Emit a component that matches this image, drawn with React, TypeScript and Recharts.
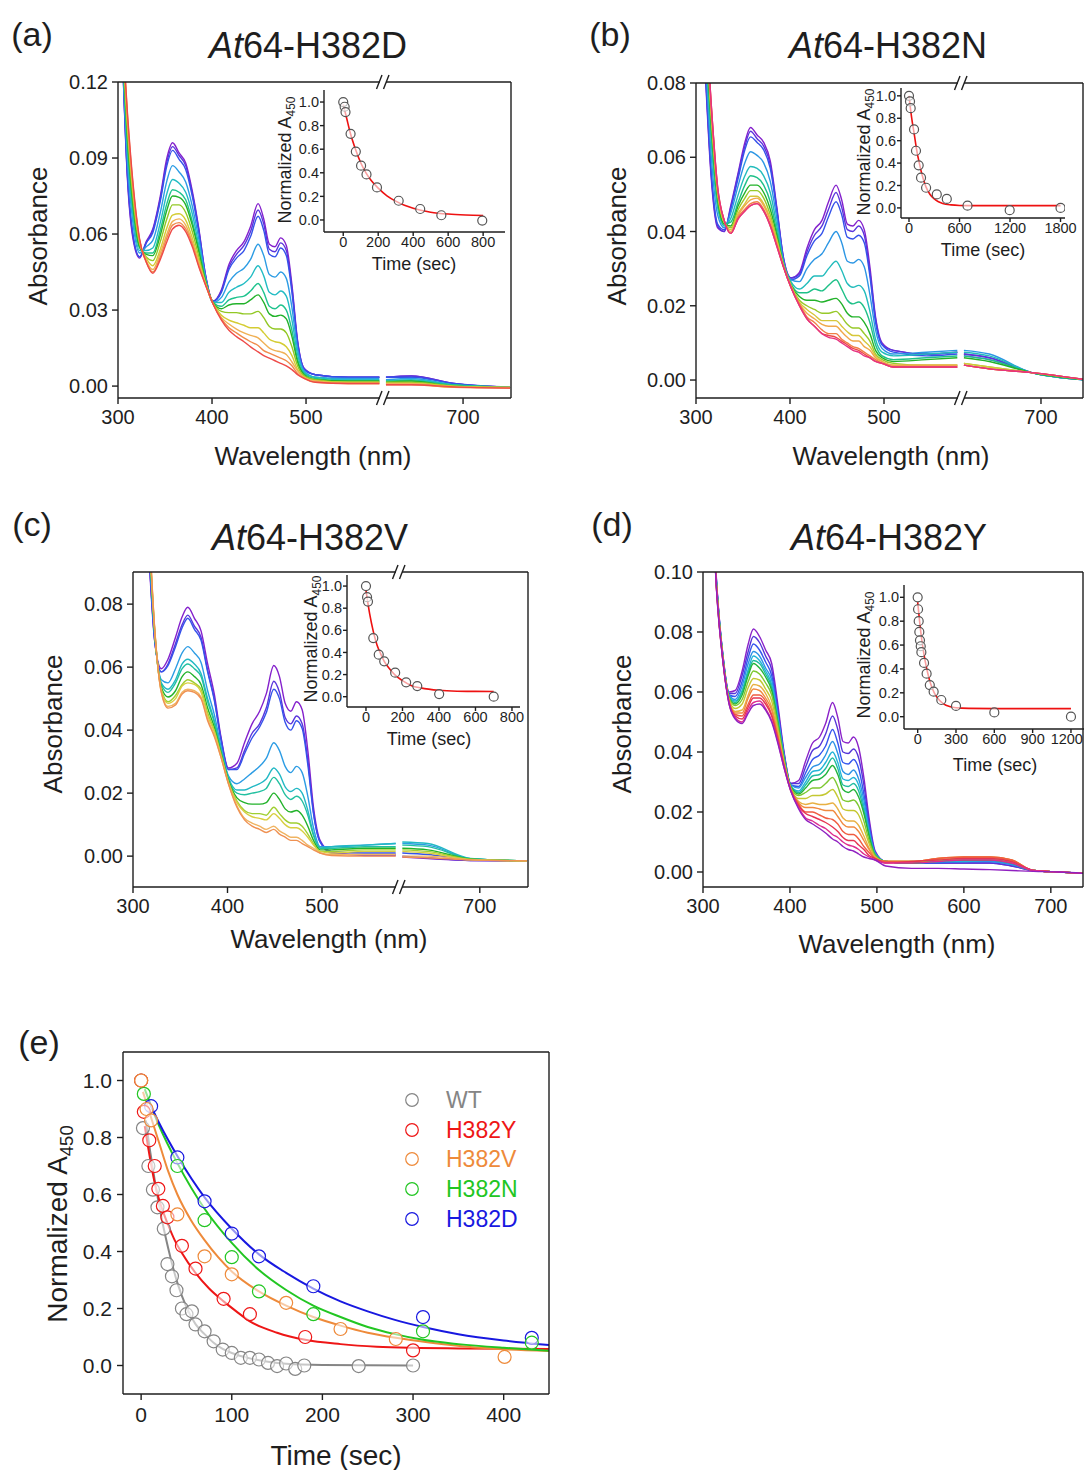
import React from 'react';
import { LineChart, ComposedChart, Line, Scatter, XAxis, YAxis } from 'recharts';

const FONT = '"Liberation Sans", Arial, Helvetica, sans-serif';
const INK = '#1e1e1e';

// wavelength grids (nm); panels a-c have a broken axis between 578 and 618
const wlBroken = [303, 310, 316, 323, 330, 337, 345, 352, 358, 365, 372, 379, 386, 393, 401, 410, 418, 426, 434, 441, 449, 455, 461, 467, 473, 479, 485, 491, 498, 510, 545, 578, 618, 645, 690, 750];
const wlFull = [303, 310, 316, 323, 330, 337, 345, 352, 358, 365, 372, 379, 386, 393, 401, 410, 418, 426, 434, 441, 449, 455, 461, 467, 473, 479, 485, 491, 498, 510, 540, 570, 600, 630, 655, 680, 710, 740];

// spectra, absorbance x 1000, first trace = t0
const spectraH382D = [
  [150, 82, 58, 50.5, 57, 62, 75, 90, 96, 92, 88, 77, 62, 44, 33.5, 38, 48, 53.5, 57, 63, 72, 66, 56, 55, 58.5, 55.5, 40, 18, 7, 4.5, 3.5, 3.5, 3.5, 4, 1, -0.5],
  [150, 83, 59, 51, 56.5, 61.5, 74, 88.5, 94.5, 91, 87, 76, 61.5, 44, 33.5, 37.5, 47, 52, 55.5, 61, 69.5, 64, 54, 53, 56.5, 53.5, 38.5, 17.5, 7, 4.5, 3.5, 3.5, 3.5, 4, 1, -0.5],
  [150, 84, 60, 51, 56.5, 60.5, 73, 87, 93, 89.5, 85.5, 75, 60.5, 43.5, 33.5, 37, 46, 50.5, 53.5, 59, 67, 61.5, 52, 51, 54.5, 51.5, 37, 17, 6.5, 4.5, 3.5, 3.5, 3.5, 3.5, 1, -0.5],
  [150, 89, 64, 52.5, 55, 57.5, 68.5, 81, 87, 84.5, 80.5, 71, 58, 43, 33, 35, 41, 44.5, 46.5, 50, 56, 51.5, 44, 43, 45, 42.5, 31, 14.5, 6, 3.5, 3, 3, 2.5, 3, 0.5, -0.5],
  [150, 93, 67, 53.5, 53.5, 54.5, 64.5, 76, 81.5, 80, 76.5, 68, 55.5, 42.5, 33, 33, 37, 39, 40.5, 43, 47.5, 43.5, 37, 36, 37.5, 35.5, 26, 12.5, 5.5, 3.5, 2.5, 2.5, 2, 2.5, 0.5, -0.5],
  [150, 96, 70, 54.5, 52.5, 52.5, 61.5, 72, 77.5, 76.5, 73.5, 65, 54, 42, 33, 31.5, 34, 35, 35.5, 37.5, 40.5, 37, 31.5, 30.5, 32, 30, 22, 10.5, 5, 3, 2, 2, 2, 2, 0.5, -0.5],
  [150, 98, 71.5, 55, 52, 51.5, 59.5, 69.5, 75, 74.5, 71.5, 63.5, 53, 41.5, 33, 30.5, 32, 32.5, 32.5, 34, 36, 33, 28.5, 27.5, 28, 26.5, 19.5, 9.5, 4.5, 2.5, 2, 2, 1.5, 2, 0, -0.5],
  [150, 101, 74, 56, 51, 49.5, 57, 66, 71.5, 71.5, 68.5, 61, 51, 41, 33, 29.5, 29, 29, 28.5, 28.5, 29.5, 27, 23.5, 22.5, 22.5, 21, 15.5, 8, 4, 2.5, 1.5, 1.5, 1.5, 1.5, 0, -0.5],
  [150, 104, 76.5, 57, 50.5, 47.5, 54, 62.5, 67.5, 68, 65.5, 58.5, 49.5, 40.5, 32.5, 28, 26, 25, 24, 23, 23, 21, 18.5, 17.5, 17, 15.5, 12, 6.5, 3.5, 2, 1.5, 1.5, 1, 1, 0, -0.5],
  [150, 105.5, 78, 57.5, 49.5, 46, 52.5, 60, 65, 66, 63.5, 57, 48.5, 40.5, 32.5, 27, 24.5, 22.5, 21, 20, 19, 17, 15, 14, 13.5, 12.5, 9.5, 6, 3.5, 2, 1, 1, 1, 1, -0.5, -0.5],
  [150, 107, 79, 57.5, 49, 45, 51, 58.5, 63.5, 64.5, 62, 56, 47.5, 40, 32.5, 26.5, 23, 21, 19, 17.5, 16, 14, 13, 12, 11, 10, 8, 5, 3, 1.5, 1, 1, 0.5, 0.5, -0.5, -0.8],
  [150, 108, 80, 58, 49, 44.5, 50, 57, 62, 63.5, 61, 55, 47, 40, 32.5, 26, 22, 19.5, 17.5, 15.5, 13.5, 12, 11, 10, 9, 8, 6.5, 4.5, 3, 1.5, 1, 1, 0.5, 0.5, -0.3, -0.8],
];
const colorsH382D = ['#8420cc', '#5a35dc', '#3552ea', '#2c9ce4', '#22bcc4', '#1fc38e', '#22b22a', '#92c824', '#d4cc32', '#f0b055', '#f08a4a', '#ee4a48'];

const spectraH382N = [
  [120, 82, 55, 41, 40, 47, 56, 64, 68, 66, 64, 59, 46.5, 33, 27.5, 29, 35.5, 40.5, 43, 48, 52.5, 48.5, 42, 41.5, 43, 40.5, 30.5, 17, 10, 8, 7, 7.5, 7, 6, 2, 0],
  [120.5, 83, 56, 41.5, 40, 46.5, 55.5, 63, 67, 65, 63, 58, 46, 33, 27.5, 28.5, 34.5, 39, 41.5, 46, 50.5, 46.5, 40.5, 40, 41.5, 39, 29, 16.5, 9.5, 8, 7, 7.5, 7, 6, 2, 0],
  [121, 84, 57, 42, 40.5, 46, 54.5, 62, 65.5, 64, 62, 57, 45.5, 32.5, 27, 28, 33.5, 37.5, 39.5, 44, 48, 44.5, 38.5, 38, 39, 37, 28, 15.5, 9.5, 7.5, 6.5, 7, 6.5, 5.5, 2, 0],
  [123, 87.5, 61, 44.5, 41, 45, 52.5, 58.5, 61.5, 60.5, 58.5, 53.5, 43.5, 32, 27, 26.5, 30, 32.5, 34, 37, 40, 37, 32, 31.5, 32.5, 30.5, 23, 13.5, 8.5, 7, 7.5, 8, 8, 7, 2, 0],
  [125, 91, 65, 46.5, 41.5, 43.5, 50, 55, 57.5, 57, 55, 50.5, 41.5, 31.5, 26.5, 24.5, 26, 28, 28, 30, 32, 29.5, 26, 25, 25.5, 24, 18.5, 11, 7.5, 6.5, 7, 7.5, 7.5, 6.5, 2, 0],
  [126, 93, 67.5, 48, 42, 42.5, 48, 52.5, 55, 54.5, 52.5, 48, 40, 31.5, 26, 23.5, 23.5, 24.5, 24, 25.5, 27, 24.5, 21.5, 20.5, 21, 19.5, 15.5, 9.5, 6.5, 5.5, 6, 6.5, 6.5, 5.5, 2, 0],
  [127.5, 95, 69.5, 49, 42, 41.5, 47, 50.5, 52.5, 52.5, 50.5, 46, 39, 31, 25.5, 22.5, 21.5, 21.5, 21, 21.5, 22, 20.5, 18, 17, 17, 15.5, 12.5, 8, 6, 5, 5.5, 6, 6, 5, 2, 0],
  [128, 97, 71.5, 50, 42.5, 41, 46, 49, 51, 51, 49, 44.5, 38, 31, 25.5, 21.5, 20, 19, 18, 18, 18.5, 17, 15, 14, 14, 12.5, 10.5, 7, 5.5, 4.5, 4, 4, 4.5, 3.5, 2, 0],
  [129, 98, 72.5, 50.5, 42.5, 40.5, 45, 47.5, 49.5, 49.5, 47.5, 43.5, 37.5, 31, 25.5, 21, 19, 17.5, 16, 16, 16, 14.5, 13, 12, 12, 10.5, 9, 6.5, 5, 4, 4, 4, 4.5, 3.5, 2, 0],
  [129, 98.5, 73.5, 51, 43, 40, 44.5, 47, 48.5, 49, 47, 43, 37, 30.5, 25, 20.5, 18, 16.5, 15, 14.5, 14.5, 13, 11.5, 10.5, 10.5, 9, 8, 6, 5, 4, 4, 4, 4, 3, 2, 0],
  [129.5, 99.5, 74.5, 51.5, 43, 39.5, 44, 46, 47.5, 48, 46, 42, 36.5, 30.5, 25, 20.5, 17, 15.5, 13.5, 12.5, 12.5, 11, 10, 9, 8.5, 7.5, 6.5, 5.5, 4.5, 3.5, 3.5, 3.5, 4, 3, 2, 0],
  [130, 100, 75, 52, 43, 39.5, 43.5, 45.5, 47, 47.5, 45.5, 41.5, 36, 30.5, 25, 20, 16.5, 14.5, 12.5, 12, 11.5, 10.5, 9.5, 8.5, 8, 7, 6, 5, 4.5, 3.5, 3.5, 3.5, 4, 3, 2, 0],
  [130, 100, 75, 52, 43, 39.5, 43.5, 45.5, 47, 47.5, 45.5, 41.5, 36, 30.5, 25, 20, 16.5, 14.5, 12.5, 11.5, 11, 10, 9, 8, 7.5, 6.5, 6, 5, 4.5, 3.5, 3.5, 3.5, 4, 3, 2, 0],
];
const colorsH382N = ['#8420cc', '#5a35dc', '#3552ea', '#2c96e4', '#22bcbc', '#1fc088', '#22b22a', '#98c92a', '#d6c73a', '#f0a84a', '#f07f45', '#ee4848', '#e63380'];

const spectraH382V = [
  [150, 135, 100, 68, 59.5, 62.5, 69.5, 76, 79, 75.5, 71.5, 61, 51.5, 38, 28, 29.5, 36, 42, 46, 51.5, 60.5, 57, 48.5, 46, 49, 46.5, 33.5, 15.5, 5, 1.3, 0.2, 0.2, -0.3, -0.8, -1.4, -1.5],
  [150, 135.5, 101, 68.5, 58.5, 61, 67.5, 73.5, 76.5, 73, 69.5, 59, 50, 37.5, 27.5, 28, 33.5, 39, 42, 47, 55.5, 52, 44, 42, 44.5, 42, 30.5, 14, 4.5, 1, 0.5, 0.5, 0, -0.5, -1.4, -1.5],
  [150, 135.5, 101.5, 68.5, 58.5, 60.5, 66.5, 72.5, 75.5, 72, 68.5, 58.5, 49.5, 37, 27.5, 27.5, 32.5, 37.5, 41, 45.5, 53, 50, 42.5, 40, 43, 40.5, 29, 13.5, 4.5, 1.5, 1, 1, 1, 0.5, -1.2, -1.5],
  [150, 137.5, 104.5, 70, 56, 55, 59.5, 64.5, 66.5, 64.5, 61.5, 52.5, 45, 35, 25.5, 23, 24.5, 26.5, 28.5, 31, 36, 33.5, 28.5, 26.5, 28.5, 26.5, 19, 9, 3, 3, 3.5, 4, 4, 3.5, -0.8, -1.5],
  [150, 138, 106, 70.5, 55, 53, 56, 61, 62.5, 61, 58, 50, 43, 34, 25, 21, 21, 22, 23, 24.5, 28, 26, 22, 20.5, 21.5, 20, 14.5, 7, 2.5, 3, 3.5, 4, 4.5, 4, -0.7, -1.5],
  [150, 138.5, 107, 70.5, 54.5, 52, 55, 59.5, 61, 59.5, 57, 49, 42.5, 33.5, 24.5, 20, 19.5, 20, 20.5, 21.5, 25, 23, 19.5, 18, 19, 17.5, 13, 6.5, 2.5, 2.5, 3, 3, 3.5, 3, -0.8, -1.5],
  [150, 139, 108, 71, 53.5, 50.5, 52.5, 57, 58.5, 57, 54.5, 47, 41, 33, 24, 18.5, 17, 16.5, 16.5, 17, 20, 18, 15, 14, 14.5, 13, 9.5, 5, 2, 2, 2.5, 2.5, 2.5, 2, -0.9, -1.5],
  [150, 139.5, 108.5, 71.5, 53, 49, 51, 54.5, 56, 55, 53, 45.5, 40, 32.5, 23.5, 17.5, 14.5, 13.5, 13.5, 13, 15.5, 13.5, 11.5, 10.5, 10.5, 9.5, 7, 4, 1.5, 1.5, 2, 2, 2, 1.5, -1, -1.5],
  [150, 139.5, 109, 71.5, 52.5, 48.5, 50, 54, 55, 54.5, 52, 44.5, 39.5, 32, 23.5, 17, 14, 12.5, 12, 11.5, 13.5, 12, 10, 9, 9, 8, 6, 3.5, 1.5, 1, 1.5, 1.5, 1.5, 1, -1.1, -1.5],
  [150, 140, 110, 72, 52, 47.5, 48.5, 52, 53, 52.5, 50.5, 43.5, 38.5, 31.5, 23, 16, 12, 10.5, 9.5, 8.5, 9.5, 8, 7, 6, 6, 5, 3.5, 2.5, 1, 0.5, 0.5, 0.5, 0, 0, -1.2, -1.5],
  [150, 140, 110, 72, 52, 47, 48, 51.5, 52.5, 52, 50, 43, 38, 31.5, 23, 15.5, 11.5, 9.5, 8.5, 7.5, 8.5, 7, 6, 5, 5, 4, 3, 2, 1, 0.2, 0, 0, -0.3, -0.5, -1.2, -1.5],
];
const colorsH382V = ['#8420cc', '#5a35dc', '#3552ea', '#2c9ce4', '#22b8c4', '#22c0a0', '#22b22a', '#a0cf32', '#d8cf40', '#f0b462', '#ef9152'];

const spectraH382Y = [
  [150, 125, 95, 72, 60, 60.5, 67, 76, 81, 78.5, 74, 69.5, 56, 40.5, 29.5, 30.5, 37, 43, 45, 49.5, 56.5, 51.5, 43.5, 43, 45, 41.5, 31.5, 18, 7, 3.5, 3, 3, 3, 3, 2, 0.5, 0, -0.5],
  [150, 125, 94.5, 72, 59.5, 59.5, 65.5, 73.5, 78.5, 76.5, 72, 67.5, 54.5, 40, 29.5, 29.5, 35, 40.5, 42, 46, 52, 47.5, 40, 39.5, 41, 38, 29, 16.5, 6.5, 3.5, 3, 3, 3, 3, 2, 0.5, 0, -0.5],
  [150, 125, 94.5, 71.5, 59, 58.5, 63.5, 71.5, 76, 74, 70, 65.5, 53.5, 39.5, 29, 28.5, 33, 37.5, 39, 42, 47.5, 43, 36.5, 36, 37.5, 34.5, 26, 15.5, 6.5, 3.5, 3, 3, 3.5, 3.5, 2.5, 0.5, 0, -0.5],
  [150, 125, 94, 71.5, 59, 57.5, 62, 69.5, 73.5, 72, 68, 64, 52, 39, 29, 28, 31.5, 35, 36, 39, 43.5, 39.5, 33.5, 32.5, 34, 31, 24, 14, 6, 3.5, 3, 3.5, 3.5, 3.5, 2.5, 0.5, 0, -0.5],
  [150, 125, 94, 71.5, 58.5, 57, 60.5, 67.5, 72, 70.5, 67, 62.5, 51.5, 38.5, 28.5, 27, 30, 33.5, 34, 36.5, 40, 36.5, 31, 30.5, 31.5, 29, 22, 13, 6, 3.5, 3, 3.5, 3.5, 4, 3, 0.5, 0, -0.5],
  [150, 125, 94, 71, 58.5, 56.5, 60, 66.5, 70.5, 69.5, 66, 61.5, 50.5, 38, 28.5, 26.5, 29, 32, 32.5, 34.5, 38, 34.5, 29, 28.5, 29.5, 27, 20.5, 12.5, 6, 3.5, 3, 3.5, 4, 4, 3, 0.5, 0, -0.5],
  [150, 125, 93.5, 71, 58, 56, 59, 65.5, 69.5, 68, 65, 60.5, 50, 38, 28.5, 26, 28, 30.5, 31, 32.5, 35.5, 32.5, 27.5, 26.5, 27.5, 25, 19.5, 12, 5.5, 3.5, 3, 4, 4, 4, 3, 0.5, 0, -0.5],
  [150, 125, 93.5, 71, 58, 55.5, 57.5, 63.5, 67, 66, 63, 59, 49, 37.5, 28, 25.5, 26.5, 28, 28, 29.5, 31.5, 28.5, 24, 23.5, 24, 22, 17, 10.5, 5.5, 3.5, 3.5, 4, 4.5, 4.5, 3.5, 0.5, 0, -0.5],
  [150, 125, 93, 70.5, 57.5, 54.5, 56, 61.5, 64.5, 64, 61, 57, 47.5, 37, 28, 24.5, 24.5, 25.5, 25.5, 26, 27.5, 25, 21, 20.5, 20.5, 19, 14.5, 9.5, 5, 3.5, 3.5, 4, 4.5, 4.5, 3.5, 0.5, 0, -0.5],
  [150, 125, 93, 70.5, 57, 53.5, 54, 59, 62.5, 62, 59.5, 55, 46.5, 36.5, 27.5, 23.5, 22.5, 23, 22.5, 22.5, 23, 21, 18, 17, 17, 15.5, 12, 8, 5, 3.5, 3.5, 4.5, 5, 5, 4, 0.5, 0, -0.5],
  [150, 125, 92.5, 70.5, 57, 53, 53, 58, 61, 60.5, 58, 54, 45.5, 36, 27.5, 23, 21.5, 21.5, 21, 20.5, 20.5, 18.5, 16, 15, 15, 13.5, 10.5, 7.5, 4.5, 3.5, 3.5, 4.5, 5, 5, 4, 0.5, 0, -0.5],
  [150, 125, 92.5, 70.5, 56.5, 52.5, 52, 56, 59, 59, 57, 52.5, 45, 36, 27.5, 22.5, 20, 20, 19, 18, 17.5, 16, 13.5, 12.5, 12.5, 11, 8.5, 6.5, 4.5, 3.5, 3.5, 4.5, 5, 5, 4, 0.5, 0, -0.5],
  [150, 125, 92.5, 70, 56.5, 52, 51, 55, 58, 58, 56, 52, 44, 35.5, 27, 22, 19.5, 18.5, 17.5, 16.5, 15, 13.5, 11.5, 10.5, 10.5, 9, 7.5, 5.5, 4.5, 3, 3.5, 4, 4.5, 4.5, 3.5, 0.5, 0, -0.5],
  [150, 125, 92, 70, 56, 51.5, 50, 54, 56.5, 57, 54.5, 50.5, 43.5, 35, 27, 21.5, 18, 17, 15.5, 14.5, 12.5, 11.5, 10, 9, 8.5, 7.5, 6, 5, 4, 3, 3, 3.5, 4, 4, 3, 0.5, 0, -0.5],
  [150, 125, 92, 70, 56, 51, 49.5, 53, 55.5, 56, 54, 50, 43, 35, 27, 21, 17.5, 16, 14.5, 13, 11, 10, 8.5, 7.5, 7, 6, 5, 4.5, 4, 2, 1.2, 1.2, 1, 0.8, 0.5, 0.2, 0, -0.5],
];
const colorsH382Y = ['#8a22c8', '#5535d8', '#3556ee', '#2c92e6', '#22b4d8', '#20bca0', '#22b43a', '#7ec832', '#c4c832', '#e8b042', '#f08a40', '#f05c40', '#e63452', '#de2c8e', '#9020c0'];

// inset kinetics: [time (s), normalized A450]
const insetH382DPts = [[0, 1.0], [8, 0.96], [13, 0.915], [42, 0.73], [72, 0.58], [102, 0.46], [133, 0.386], [193, 0.276], [317, 0.163], [440, 0.093], [561, 0.04], [795, -0.005]];
const insetH382DFit = [[0, 0.98], [20, 0.86], [40, 0.74], [70, 0.6], [100, 0.485], [130, 0.4], [160, 0.335], [200, 0.27], [250, 0.205], [300, 0.16], [350, 0.125], [400, 0.1], [450, 0.08], [500, 0.066], [600, 0.05], [700, 0.042], [800, 0.038]];
const insetH382NPts = [[0, 1.0], [12, 0.95], [20, 0.89], [60, 0.7], [83, 0.51], [115, 0.38], [143, 0.27], [203, 0.18], [330, 0.12], [449, 0.08], [695, 0.02], [1196, -0.02], [1800, 0.0]];
const insetH382NFit = [[0, 1.0], [20, 0.87], [40, 0.76], [60, 0.67], [80, 0.57], [100, 0.48], [120, 0.41], [150, 0.31], [200, 0.19], [250, 0.12], [300, 0.08], [350, 0.055], [400, 0.04], [500, 0.027], [600, 0.022], [800, 0.02], [1200, 0.02], [1800, 0.02]];
const insetH382VPts = [[0, 1.0], [6, 0.9], [11, 0.86], [40, 0.53], [70, 0.38], [100, 0.32], [160, 0.217], [220, 0.13], [281, 0.096], [401, 0.024], [700, 0.0]];
const insetH382VFit = [[0, 0.96], [20, 0.75], [40, 0.59], [60, 0.47], [80, 0.39], [100, 0.32], [130, 0.25], [160, 0.195], [200, 0.145], [250, 0.1], [300, 0.08], [400, 0.058], [500, 0.05], [600, 0.048], [700, 0.047]];
const insetH382YPts = [[0, 1.0], [3, 0.9], [8, 0.8], [13, 0.71], [18, 0.64], [24, 0.59], [29, 0.54], [50, 0.45], [70, 0.36], [95, 0.265], [125, 0.21], [185, 0.14], [300, 0.09], [600, 0.036], [1200, 0.0]];
const insetH382YFit = [[0, 0.96], [15, 0.8], [30, 0.66], [45, 0.55], [60, 0.46], [80, 0.36], [100, 0.28], [130, 0.2], [160, 0.15], [200, 0.11], [250, 0.085], [300, 0.075], [400, 0.07], [600, 0.068], [1200, 0.068]];

// panel (e)
const wtPts = [[0, 1.0], [2, 0.833], [8, 0.7], [13, 0.617], [18, 0.555], [25, 0.48], [29, 0.356], [34, 0.313], [39, 0.264], [45, 0.2], [50, 0.18], [56, 0.19], [60, 0.144], [70, 0.12], [80, 0.085], [90, 0.056], [100, 0.044], [110, 0.027], [120, 0.027], [130, 0.021], [140, 0.009], [150, -0.002], [160, 0.007], [170, -0.012], [180, 0], [240, -0.002], [300, 0]];
const wtFit = [[5, 0.86], [10, 0.75], [15, 0.65], [20, 0.56], [25, 0.48], [30, 0.41], [40, 0.29], [50, 0.205], [60, 0.145], [70, 0.11], [80, 0.08], [90, 0.058], [100, 0.044], [120, 0.025], [140, 0.013], [160, 0.006], [200, 0.002], [300, 0]];
const h382yPts = [[0, 1.0], [3, 0.89], [9, 0.79], [15, 0.7], [19, 0.62], [24, 0.56], [29, 0.52], [45, 0.42], [60, 0.34], [91, 0.234], [120, 0.18], [181, 0.1], [300, 0.053]];
const h382yFit = [[4, 0.84], [8, 0.76], [15, 0.64], [22, 0.56], [29, 0.5], [37, 0.44], [45, 0.395], [60, 0.325], [75, 0.27], [91, 0.225], [105, 0.19], [120, 0.155], [150, 0.115], [181, 0.09], [220, 0.075], [260, 0.066], [300, 0.062], [350, 0.06], [450, 0.058]];
const h382vPts = [[0, 1.0], [6, 0.9], [11, 0.86], [40, 0.53], [70, 0.383], [100, 0.32], [160, 0.22], [220, 0.128], [281, 0.093], [401, 0.03]];
const h382vFit = [[2, 0.96], [10, 0.88], [20, 0.78], [30, 0.68], [40, 0.6], [55, 0.51], [70, 0.44], [85, 0.38], [100, 0.33], [130, 0.26], [160, 0.21], [190, 0.17], [220, 0.14], [250, 0.115], [281, 0.097], [320, 0.08], [360, 0.066], [400, 0.057], [450, 0.051]];
const h382nPts = [[3, 0.953], [40, 0.7], [70, 0.51], [100, 0.38], [130, 0.26], [190, 0.18], [311, 0.12], [431, 0.08]];
const h382nFit = [[4, 0.97], [20, 0.84], [40, 0.71], [70, 0.55], [100, 0.43], [130, 0.335], [160, 0.265], [190, 0.21], [220, 0.17], [250, 0.135], [280, 0.11], [311, 0.09], [350, 0.075], [400, 0.062], [450, 0.052]];
const h382dPts = [[11, 0.91], [40, 0.73], [70, 0.576], [100, 0.463], [130, 0.383], [190, 0.278], [311, 0.17], [431, 0.097]];
const h382dFit = [[8, 0.93], [20, 0.85], [40, 0.735], [70, 0.59], [100, 0.48], [130, 0.39], [160, 0.325], [190, 0.27], [220, 0.225], [250, 0.19], [280, 0.16], [311, 0.135], [350, 0.11], [400, 0.088], [450, 0.072]];

const legendNames = ['WT', 'H382Y', 'H382V', 'H382N', 'H382D'];
const legendColors = ['#858585', '#ee1616', '#ee8a3a', '#22c622', '#1818e0'];

// broken axis: wavelengths above the break are drawn 33 nm to the left
const SHIFT = 33;
const BREAK_X = 581.5;
const TOP_PAD = 16;

const toXY = (pts: number[][]) => pts.map(([t, v]) => ({ t, v }));

function buildTable(wl: number[], curves: number[][], broken: boolean) {
  const rows: any[] = [];
  wl.forEach((w, i) => {
    if (broken && w > 600 && wl[i - 1] < 600) rows.push({ x: BREAK_X });
    const row: any = { x: broken && w > 600 ? w - SHIFT : w };
    curves.forEach((c, k) => {
      row['s' + k] = c[i] / 1000;
    });
    rows.push(row);
  });
  return rows;
}

const axisStyle = { stroke: INK, strokeWidth: 1.4 };

const Txt = ({ x, y, size, rotate, color, children, style }: any) => (
  <div
    style={{
      position: 'absolute',
      left: x,
      top: y,
      transform: `translate(-50%, -50%)${rotate ? ' rotate(-90deg)' : ''}`,
      fontSize: size,
      lineHeight: 1,
      whiteSpace: 'nowrap',
      color: color || INK,
      ...style,
    }}
  >
    {children}
  </div>
);

const NormA = () => (
  <>
    Normalized A<span style={{ fontSize: '0.66em', position: 'relative', top: '0.3em' }}>450</span>
  </>
);

const Title = ({ x, y, name }: any) => (
  <Txt x={x} y={y} size={36}>
    <i>At</i>64-{name}
  </Txt>
);

function BreakMark({ x, y }: any) {
  return (
    <svg style={{ position: 'absolute', left: x - 9, top: y - 9 }} width={18} height={18}>
      <rect x={6} y={6.5} width={6} height={5} fill="#fff" />
      <line x1={2.5} y1={16} x2={8} y2={2} stroke={INK} strokeWidth={1.4} />
      <line x1={9.5} y1={16} x2={15} y2={2} stroke={INK} strokeWidth={1.4} />
    </svg>
  );
}

function Spectra({ px, py, pw, ph, wl, curves, colors, broken, xMax, yDomain, yTicks }: any) {
  const data = buildTable(wl, curves, broken);
  const xTicks = broken ? [300, 400, 500, 700 - SHIFT] : [300, 400, 500, 600, 700];
  const fmtX = (v: number) => String(v > 600 ? v + SHIFT : v);
  const fmtY = (v: number) => v.toFixed(2);
  return (
    <div style={{ position: 'absolute', left: px - 60, top: py - TOP_PAD }}>
      <LineChart width={60 + pw + 8} height={TOP_PAD + ph + 40} data={data} margin={{ top: 0, right: 0, bottom: 0, left: 0 }}>
        <XAxis dataKey="x" type="number" domain={[300, xMax]} allowDataOverflow ticks={xTicks} interval={0}
          tickFormatter={broken ? fmtX : undefined} height={40} tickSize={6} tickMargin={6}
          axisLine={axisStyle} tickLine={axisStyle} tick={{ fontSize: 20, fill: INK }} />
        <XAxis xAxisId="top" orientation="top" dataKey="x" type="number" domain={[300, xMax]} allowDataOverflow
          ticks={xTicks} interval={0} height={TOP_PAD} tickSize={6} tick={false} axisLine={axisStyle} tickLine={axisStyle} />
        <YAxis type="number" domain={yDomain} allowDataOverflow ticks={yTicks} interval={0} tickFormatter={fmtY}
          width={60} tickSize={6} tickMargin={4} axisLine={axisStyle} tickLine={axisStyle} tick={{ fontSize: 20, fill: INK }} />
        <YAxis yAxisId="right" orientation="right" type="number" domain={yDomain} allowDataOverflow ticks={yTicks}
          interval={0} width={8} tickSize={6} tick={false} axisLine={axisStyle} tickLine={axisStyle} />
        {curves.map((_: any, k: number) => (
          <Line key={k} dataKey={'s' + k} type="monotone" stroke={colors[k]} strokeWidth={1.4} dot={false}
            isAnimationActive={false} />
        ))}
      </LineChart>
    </div>
  );
}

const ring = (stroke: string, r: number, fill: string) => (p: any) => (
  <circle cx={p.cx} cy={p.cy} r={r} stroke={stroke} strokeWidth={1.2} fill={fill} />
);

// x tick for insets; a label that would run past the page edge is pulled back inside
const insetTick = (maxX: number) => (p: any) => {
  const label = String(p.payload.value);
  const half = (label.length * 8.1) / 2;
  const x = p.x + half > maxX ? maxX - half : p.x;
  return (
    <text x={x} y={p.y} dy="0.71em" textAnchor="middle" fontSize={14.5} fill={INK}>
      {label}
    </text>
  );
};

function Inset({ px, py, pw, ph, xDomain, xTicks, yDomain, pts, fit }: any) {
  const chartLeft = px - 40;
  const maxX = 1083 - chartLeft;
  return (
    <div style={{ position: 'absolute', left: chartLeft, top: py }}>
      <ComposedChart width={40 + pw + 24} height={ph + 30} margin={{ top: 0, right: 24, bottom: 0, left: 0 }}>
        <XAxis dataKey="t" type="number" domain={xDomain} allowDataOverflow ticks={xTicks} interval={0} height={30}
          tickSize={4} tickMargin={1} axisLine={axisStyle} tickLine={axisStyle} tick={insetTick(maxX)} />
        <YAxis dataKey="v" type="number" domain={yDomain} allowDataOverflow ticks={[0, 0.2, 0.4, 0.6, 0.8, 1]}
          interval={0} tickFormatter={(v: number) => v.toFixed(1)} width={40} tickSize={4} tickMargin={1}
          axisLine={axisStyle} tickLine={axisStyle} tick={{ fontSize: 14.5, fill: INK }} />
        <Scatter data={toXY(pts)} shape={ring('#555', 4.5, 'rgba(255,255,255,0.6)')} isAnimationActive={false} />
        <Line data={toXY(fit)} dataKey="v" type="monotone" stroke="#ee1111" strokeWidth={1.6} dot={false}
          isAnimationActive={false} />
      </ComposedChart>
    </div>
  );
}

function Kinetics() {
  const px = 123, py = 1052, pw = 426, ph = 342;
  const xTicks = [0, 100, 200, 300, 400];
  const yTicks = [0, 0.2, 0.4, 0.6, 0.8, 1];
  const fits = [wtFit, h382yFit, h382vFit, h382nFit, h382dFit];
  const pts = [wtPts, h382dPts, h382nPts, h382yPts, h382vPts];
  const ptColors = [legendColors[0], legendColors[4], legendColors[3], legendColors[1], legendColors[2]];
  return (
    <div style={{ position: 'absolute', left: px - 60, top: py - 8 }}>
      <ComposedChart width={60 + pw + 8} height={8 + ph + 40} margin={{ top: 0, right: 0, bottom: 0, left: 0 }}>
        <XAxis dataKey="t" type="number" domain={[-20, 450]} allowDataOverflow ticks={xTicks} interval={0}
          height={40} tickSize={6} tickMargin={7} axisLine={axisStyle} tickLine={axisStyle}
          tick={{ fontSize: 21, fill: INK }} />
        <XAxis xAxisId="top" orientation="top" type="number" domain={[-20, 450]} allowDataOverflow ticks={xTicks}
          interval={0} height={8} tickSize={6} tick={false} axisLine={axisStyle} tickLine={axisStyle} />
        <YAxis dataKey="v" type="number" domain={[-0.1, 1.1]} allowDataOverflow ticks={yTicks} interval={0}
          tickFormatter={(v: number) => v.toFixed(1)} width={60} tickSize={6} tickMargin={5}
          axisLine={axisStyle} tickLine={axisStyle} tick={{ fontSize: 21, fill: INK }} />
        <YAxis yAxisId="right" orientation="right" type="number" domain={[-0.1, 1.1]} allowDataOverflow
          ticks={yTicks} interval={0} width={8} tickSize={6} tick={false} axisLine={axisStyle} tickLine={axisStyle} />
        {fits.map((f, k) => (
          <Line key={'f' + k} data={toXY(f)} dataKey="v" type="monotone" stroke={legendColors[k]} strokeWidth={2}
            dot={false} isAnimationActive={false} />
        ))}
        {pts.map((p, k) => (
          <Scatter key={'p' + k} data={toXY(p)} shape={ring(ptColors[k], 6.5, 'rgba(255,255,255,0.55)')}
            isAnimationActive={false} />
        ))}
      </ComposedChart>
    </div>
  );
}

function KineticsLegend() {
  return (
    <>
      {legendNames.map((n, k) => (
        <React.Fragment key={n}>
          <svg style={{ position: 'absolute', left: 404, top: 1092 + k * 29.7 }} width={16} height={16}>
            <circle cx={8} cy={8} r={6.3} fill="#fff" stroke={legendColors[k]} strokeWidth={1.2} />
          </svg>
          <div style={{ position: 'absolute', left: 446, top: 1100 + k * 29.7, transform: 'translateY(-50%)', fontSize: 23, lineHeight: 1, color: legendColors[k] }}>
            {n}
          </div>
        </React.Fragment>
      ))}
    </>
  );
}

export default function App() {
  return (
    <div style={{ position: 'absolute', left: 0, top: 0, width: 1084, height: 1470, overflow: 'hidden', background: '#fff', fontFamily: FONT, color: INK }}>
      {/* (a) */}
      <Spectra px={118} py={82} pw={393} ph={316} wl={wlBroken} curves={spectraH382D} colors={colorsH382D} broken
        xMax={718} yDomain={[-0.0047, 0.12]} yTicks={[0, 0.03, 0.06, 0.09, 0.12]} />
      <BreakMark x={382.6} y={82} />
      <BreakMark x={382.6} y={398} />
      <Inset px={324} py={90} pw={181} ph={142} xDomain={[-110, 925]} xTicks={[0, 200, 400, 600, 800]}
        yDomain={[-0.102, 1.102]} pts={insetH382DPts} fit={insetH382DFit} />
      <Txt x={32} y={34} size={34}>(a)</Txt>
      <Title x={308} y={46} name="H382D" />
      <Txt x={38} y={236} size={26} rotate>Absorbance</Txt>
      <Txt x={313} y={456} size={26}>Wavelength (nm)</Txt>
      <Txt x={285} y={160} size={18} rotate><NormA /></Txt>
      <Txt x={414} y={264} size={18}>Time (sec)</Txt>

      {/* (b) */}
      <Spectra px={696} py={83} pw={387} ph={315} wl={wlBroken} curves={spectraH382N} colors={colorsH382N} broken
        xMax={711.7} yDomain={[-0.00484, 0.08]} yTicks={[0, 0.02, 0.04, 0.06, 0.08]} />
      <BreakMark x={960.6} y={83} />
      <BreakMark x={960.6} y={398} />
      <Inset px={901} py={88} pw={164} ph={130} xDomain={[-95, 1853]} xTicks={[0, 600, 1200, 1800]}
        yDomain={[-0.09, 1.07]} pts={insetH382NPts} fit={insetH382NFit} />
      <Txt x={610} y={34} size={34}>(b)</Txt>
      <Title x={888} y={46} name="H382N" />
      <Txt x={617} y={236} size={26} rotate>Absorbance</Txt>
      <Txt x={891} y={456} size={26}>Wavelength (nm)</Txt>
      <Txt x={864} y={152} size={18} rotate><NormA /></Txt>
      <Txt x={983} y={250} size={18}>Time (sec)</Txt>

      {/* (c) */}
      <Spectra px={133} py={572} pw={395} ph={315} wl={wlBroken} curves={spectraH382V} colors={colorsH382V} broken
        xMax={718} yDomain={[-0.0098, 0.0902]} yTicks={[0, 0.02, 0.04, 0.06, 0.08]} />
      <BreakMark x={399} y={572} />
      <BreakMark x={399} y={887} />
      <Inset px={347} py={575} pw={173} ph={132} xDomain={[-104, 844]} xTicks={[0, 200, 400, 600, 800]}
        yDomain={[-0.093, 1.1]} pts={insetH382VPts} fit={insetH382VFit} />
      <Txt x={32} y={524} size={34}>(c)</Txt>
      <Title x={310} y={538} name="H382V" />
      <Txt x={53} y={724} size={26} rotate>Absorbance</Txt>
      <Txt x={329} y={939} size={26}>Wavelength (nm)</Txt>
      <Txt x={311} y={639} size={18} rotate><NormA /></Txt>
      <Txt x={429} y={739} size={18}>Time (sec)</Txt>

      {/* (d) */}
      <Spectra px={703} py={572} pw={380} ph={315} wl={wlFull} curves={spectraH382Y} colors={colorsH382Y}
        broken={false} xMax={737} yDomain={[-0.005, 0.1]} yTicks={[0, 0.02, 0.04, 0.06, 0.08, 0.1]} />
      <Inset px={904} py={585} pw={180} ph={144} xDomain={[-107, 1302]} xTicks={[0, 300, 600, 900, 1200]}
        yDomain={[-0.103, 1.103]} pts={insetH382YPts} fit={insetH382YFit} />
      <Txt x={612} y={524} size={34}>(d)</Txt>
      <Title x={889} y={538} name="H382Y" />
      <Txt x={622} y={724} size={26} rotate>Absorbance</Txt>
      <Txt x={897} y={944} size={26}>Wavelength (nm)</Txt>
      <Txt x={864} y={655} size={18} rotate><NormA /></Txt>
      <Txt x={995} y={765} size={18}>Time (sec)</Txt>

      {/* (e) */}
      <Kinetics />
      <KineticsLegend />
      <Txt x={39} y={1042} size={34}>(e)</Txt>
      <Txt x={58} y={1224} size={28} rotate><NormA /></Txt>
      <Txt x={336} y={1456} size={28}>Time (sec)</Txt>
    </div>
  );
}
